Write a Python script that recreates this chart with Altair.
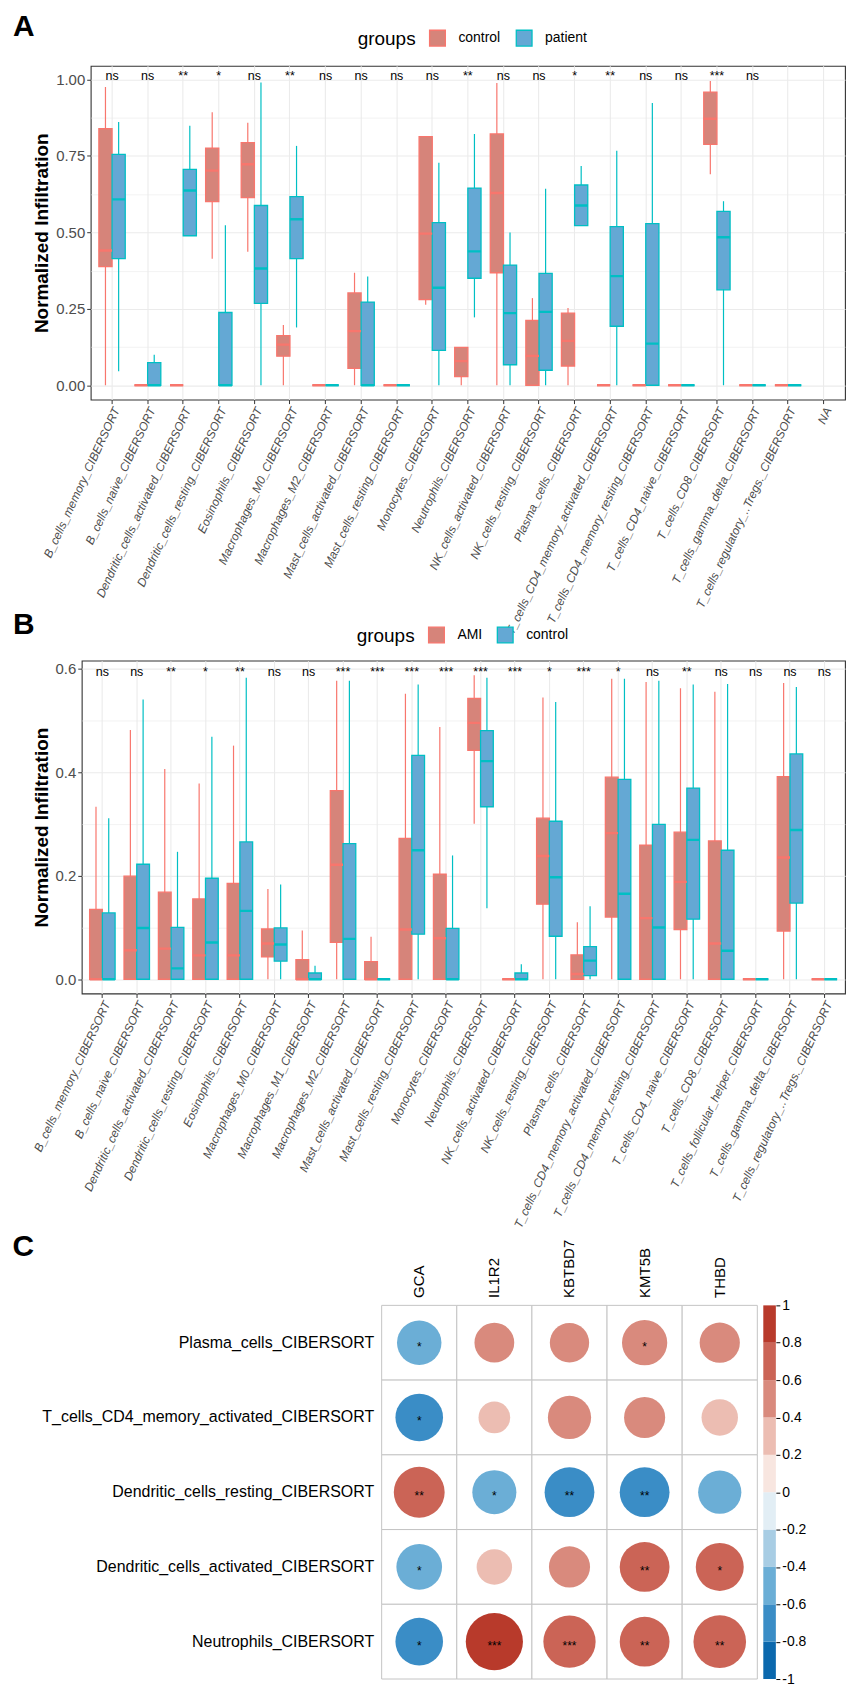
import altair as alt
import pandas as pd

FONT = "Liberation Sans"
RED_FILL, BLUE_FILL = "#D6847A", "#64A8D4"
RED_LINE, BLUE_LINE = "#F8766D", "#00BFC4"

# ---------------- Panel A ----------------
cats_a = ["B_cells_memory_CIBERSORT", "B_cells_naive_CIBERSORT", "Dendritic_cells_activated_CIBERSORT",
          "Dendritic_cells_resting_CIBERSORT", "Eosinophils_CIBERSORT", "Macrophages_M0_CIBERSORT",
          "Macrophages_M2_CIBERSORT", "Mast_cells_activated_CIBERSORT", "Mast_cells_resting_CIBERSORT",
          "Monocytes_CIBERSORT", "Neutrophils_CIBERSORT", "NK_cells_activated_CIBERSORT",
          "NK_cells_resting_CIBERSORT", "Plasma_cells_CIBERSORT", "T_cells_CD4_memory_activated_CIBERSORT",
          "T_cells_CD4_memory_resting_CIBERSORT", "T_cells_CD4_naive_CIBERSORT", "T_cells_CD8_CIBERSORT",
          "T_cells_gamma_delta_CIBERSORT", "T_cells_regulatory_..Tregs._CIBERSORT", "NA"]
groups_a = ["control", "patient"]
a_ctrl_lo  = [0, 0, 0, 0.414, 0.437, 0, 0, 0, 0, 0.263, 0, 0, 0, 0, 0, 0, 0, 0.690, 0, 0]
a_ctrl_q1  = [0.388, 0, 0, 0.601, 0.614, 0.095, 0, 0.055, 0, 0.280, 0.028, 0.368, 0, 0.063, 0, 0, 0, 0.788, 0, 0]
a_ctrl_med = [0.441, 0, 0, 0.702, 0.723, 0.133, 0, 0.177, 0, 0.496, 0.079, 0.629, 0.096, 0.145, 0, 0, 0, 0.872, 0, 0]
a_ctrl_q3  = [0.839, 0, 0, 0.776, 0.794, 0.162, 0, 0.302, 0, 0.813, 0.124, 0.822, 0.212, 0.236, 0, 0, 0, 0.959, 0, 0]
a_ctrl_hi  = [0.976, 0, 0, 0.893, 0.859, 0.197, 0, 0.368, 0, 0.813, 0.124, 0.989, 0.285, 0.253, 0, 0, 0, 0.995, 0, 0]
a_pat_lo   = [0.046, 0, 0.489, 0, 0, 0.189, 0, 0, 0, 0, 0.222, 0, 0, 0.522, 0, 0, 0, 0, 0, 0]
a_pat_q1   = [0.414, 0, 0.489, 0, 0.268, 0.414, 0, 0, 0, 0.114, 0.350, 0.067, 0.049, 0.522, 0.193, 0, 0, 0.312, 0, 0]
a_pat_med  = [0.608, 0, 0.637, 0, 0.382, 0.543, 0, 0, 0, 0.319, 0.438, 0.236, 0.240, 0.588, 0.357, 0.136, 0, 0.484, 0, 0]
a_pat_q3   = [0.755, 0.074, 0.706, 0.238, 0.588, 0.617, 0, 0.272, 0, 0.532, 0.645, 0.393, 0.366, 0.655, 0.519, 0.529, 0, 0.569, 0, 0]
a_pat_hi   = [0.861, 0.100, 0.849, 0.523, 0.990, 0.783, 0, 0.356, 0, 0.728, 0.822, 0.500, 0.643, 0.717, 0.767, 0.923, 0, 0.602, 0, 0]
sig_a = ["ns", "ns", "**", "*", "ns", "**", "ns", "ns", "ns", "ns", "**", "ns", "ns", "*", "**", "ns", "ns", "***", "ns"]
y_major_a = [0, 0.25, 0.5, 0.75, 1.0]
y_minor_a = [0.125, 0.375, 0.625, 0.875]

# ---------------- Panel B ----------------
cats_b = ["B_cells_memory_CIBERSORT", "B_cells_naive_CIBERSORT", "Dendritic_cells_activated_CIBERSORT",
          "Dendritic_cells_resting_CIBERSORT", "Eosinophils_CIBERSORT", "Macrophages_M0_CIBERSORT",
          "Macrophages_M1_CIBERSORT", "Macrophages_M2_CIBERSORT", "Mast_cells_activated_CIBERSORT",
          "Mast_cells_resting_CIBERSORT", "Monocytes_CIBERSORT", "Neutrophils_CIBERSORT",
          "NK_cells_activated_CIBERSORT", "NK_cells_resting_CIBERSORT", "Plasma_cells_CIBERSORT",
          "T_cells_CD4_memory_activated_CIBERSORT", "T_cells_CD4_memory_resting_CIBERSORT",
          "T_cells_CD4_naive_CIBERSORT", "T_cells_CD8_CIBERSORT", "T_cells_follicular_helper_CIBERSORT",
          "T_cells_gamma_delta_CIBERSORT", "T_cells_regulatory_..Tregs._CIBERSORT"]
groups_b = ["AMI", "control"]
b_ami_lo  = [0, 0, 0, 0, 0, 0, 0, 0, 0, 0, 0, 0.300, 0, 0, 0, 0, 0, 0, 0, 0, 0, 0]
b_ami_q1  = [0, 0, 0, 0, 0, 0.043, 0, 0.071, 0, 0, 0, 0.442, 0, 0.145, 0, 0.120, 0, 0.096, 0, 0, 0.093, 0]
b_ami_med = [0, 0.056, 0.059, 0.046, 0.046, 0.069, 0, 0.221, 0, 0.096, 0.079, 0.495, 0, 0.238, 0.010, 0.282, 0.118, 0.188, 0.069, 0, 0.235, 0]
b_ami_q3  = [0.135, 0.199, 0.168, 0.155, 0.185, 0.097, 0.038, 0.364, 0.034, 0.272, 0.203, 0.542, 0, 0.311, 0.047, 0.390, 0.259, 0.284, 0.267, 0, 0.391, 0]
b_ami_hi  = [0.333, 0.481, 0.406, 0.378, 0.451, 0.174, 0.094, 0.576, 0.082, 0.551, 0.487, 0.587, 0, 0.544, 0.110, 0.580, 0.574, 0.562, 0.555, 0, 0.572, 0]
b_ctl_lo  = [0, 0, 0, 0, 0, 0, 0, 0, 0, 0, 0, 0.137, 0, 0, 0, 0, 0, 0, 0, 0, 0, 0]
b_ctl_q1  = [0, 0, 0, 0, 0, 0.035, 0, 0, 0, 0.087, 0, 0.333, 0, 0.083, 0.007, 0, 0, 0.116, 0, 0, 0.147, 0]
b_ctl_med = [0, 0.099, 0.021, 0.071, 0.132, 0.067, 0, 0.078, 0, 0.249, 0, 0.421, 0, 0.197, 0.036, 0.165, 0.100, 0.269, 0.055, 0, 0.288, 0]
b_ctl_q3  = [0.128, 0.222, 0.100, 0.195, 0.265, 0.099, 0.012, 0.262, 0, 0.432, 0.098, 0.480, 0.012, 0.305, 0.063, 0.386, 0.299, 0.369, 0.249, 0, 0.435, 0]
b_ctl_hi  = [0.311, 0.540, 0.246, 0.468, 0.582, 0.183, 0.026, 0.576, 0, 0.569, 0.239, 0.582, 0.029, 0.535, 0.141, 0.580, 0.576, 0.569, 0.570, 0, 0.564, 0]
sig_b = ["ns", "ns", "**", "*", "**", "ns", "ns", "***", "***", "***", "***", "***", "***", "*", "***", "*",
         "ns", "**", "ns", "ns", "ns", "ns"]
y_major_b = [0, 0.2, 0.4, 0.6]
y_minor_b = [0.1, 0.3, 0.5]

# ---------------- Panel C ----------------
rows_c = ["Plasma_cells_CIBERSORT", "T_cells_CD4_memory_activated_CIBERSORT", "Dendritic_cells_resting_CIBERSORT",
          "Dendritic_cells_activated_CIBERSORT", "Neutrophils_CIBERSORT"]
cols_c = ["GCA", "IL1R2", "KBTBD7", "KMT5B", "THBD"]
r_plasma = [-0.55, 0.44, 0.43, 0.57, 0.45]
r_cd4mem = [-0.63, 0.28, 0.52, 0.47, 0.37]
r_dcrest = [0.72, -0.54, -0.69, -0.69, -0.52]
r_dcact  = [-0.58, 0.35, 0.47, 0.69, 0.64]
r_neut   = [-0.63, 0.91, 0.76, 0.69, 0.77]
s_plasma = ["*", "", "", "*", ""]
s_cd4mem = ["*", "", "", "", ""]
s_dcrest = ["**", "*", "**", "**", ""]
s_dcact  = ["*", "", "", "**", "*"]
s_neut   = ["*", "***", "***", "**", "**"]
cb_breaks = [-1, -0.8, -0.6, -0.4, -0.2, 0, 0.2, 0.4, 0.6, 0.8, 1]
cb_colors = ["#0B68AD", "#3A8DC6", "#6BAED6", "#A8CDE4", "#E2EEF5",
             "#F8E6E0", "#ECBDB2", "#D98A7D", "#CB6456", "#B83A2B"]


def long_df(cats, groups, stats):
    recs = []
    for g, (lo, q1, md, q3, hi) in zip(groups, stats):
        for i in range(len(lo)):
            recs.append(dict(cat=cats[i], group=g, lo=lo[i], q1=q1[i], med=md[i], q3=q3[i], hi=hi[i]))
    return pd.DataFrame(recs)


def box_panel(cats, groups, df, sig, sig_y, ydom, major, minor, fmt, width, height,
              letter, letter_dx, letter_dy, ytitle_x, leg_x, leg_y):
    minor_test = f"indexof({minor}, datum.value) >= 0"
    vals = sorted(major + minor)
    x_axis = alt.Axis(title=None, labelAngle=-65, labelAlign="right", labelBaseline="top",
                      labelFontStyle="italic", labelFontSize=12, labelColor="#4D4D4D", labelFont=FONT,
                      labelLimit=1000, labelOverlap=False, labelPadding=2, tickSize=4, tickColor="#333333",
                      bandPosition=0.5, grid=True, gridColor="#EBEBEB", gridWidth=1.1, domain=False)
    y_axis = alt.Axis(title="Normalized Infiltration", titleFontSize=19, titleFontWeight="bold",
                      titleColor="black", titleFont=FONT, titleX=ytitle_x, titleBaseline="alphabetic",
                      values=vals,
                      labelExpr=f"indexof({major}, datum.value) >= 0 ? format(datum.value, '{fmt}') : ''",
                      labelFontSize=15, labelColor="#4D4D4D", labelFont=FONT, labelPadding=2,
                      tickSize=4, tickColor="#333333",
                      tickOpacity={"condition": {"test": minor_test, "value": 0}, "value": 1},
                      grid=True, gridColor="#EBEBEB",
                      gridWidth={"condition": {"test": minor_test, "value": 0.6}, "value": 1.1},
                      domain=False)
    legend = alt.Legend(title="groups", orient="none", legendX=leg_x, legendY=leg_y, direction="horizontal",
                        titleOrient="left", titleFontSize=19, titleFontWeight="normal", titleColor="black",
                        titleFont=FONT, labelFontSize=14, labelFont=FONT, labelColor="black",
                        symbolType="square", symbolSize=250, symbolStrokeWidth=1.3, labelOffset=12,
                        columnPadding=12, titlePadding=12)
    x = alt.X("cat:N", scale=alt.Scale(domain=cats, paddingInner=0, paddingOuter=0.1), axis=x_axis)
    xo = alt.XOffset("group:N", scale=alt.Scale(domain=groups, paddingInner=0, paddingOuter=0.35))
    fill = alt.Fill("group:N", scale=alt.Scale(domain=groups, range=[RED_FILL, BLUE_FILL]), legend=legend)
    stroke = alt.Stroke("group:N", scale=alt.Scale(domain=groups, range=[RED_LINE, BLUE_LINE]), legend=legend)
    base = alt.Chart(df).encode(x=x, xOffset=xo)
    whisk = base.mark_rule(strokeWidth=1.2).encode(
        y=alt.Y("lo:Q", scale=alt.Scale(domain=ydom, nice=False, zero=False), axis=y_axis),
        y2="hi:Q", stroke=stroke)
    box = base.mark_bar(strokeWidth=1.3).encode(y="q1:Q", y2="q3:Q", fill=fill, stroke=stroke)
    med = base.mark_bar(strokeWidth=2.4, fillOpacity=0).encode(y="med:Q", y2="med:Q", stroke=stroke)
    sig_df = pd.DataFrame({"cat": cats[:len(sig)], "label": sig})
    stars = alt.Chart(sig_df).mark_text(fontSize=12.5, font=FONT, baseline="middle", color="black").encode(
        x=alt.X("cat:N"), y=alt.datum(sig_y), text="label:N")
    return alt.layer(whisk, box, med, stars).properties(
        width=width, height=height,
        title=alt.TitleParams(letter, anchor="start", frame="group", dx=letter_dx, dy=letter_dy,
                              fontSize=30, fontWeight="bold", font=FONT, color="black"),
        view=alt.ViewBackground(stroke="#333333", strokeWidth=1.1))


def spacer():
    return alt.Chart(pd.DataFrame({"v": []})).mark_point().encode(
        x=alt.X("v:Q", axis=None), y=alt.Y("v:Q", axis=None)).properties(
        width=1, height=1, view=alt.ViewBackground(stroke=None))


df_a = long_df(cats_a, groups_a, [(a_ctrl_lo, a_ctrl_q1, a_ctrl_med, a_ctrl_q3, a_ctrl_hi),
                                  (a_pat_lo, a_pat_q1, a_pat_med, a_pat_q3, a_pat_hi)])
df_b = long_df(cats_b, groups_b, [(b_ami_lo, b_ami_q1, b_ami_med, b_ami_q3, b_ami_hi),
                                  (b_ctl_lo, b_ctl_q1, b_ctl_med, b_ctl_q3, b_ctl_hi)])

panel_a = box_panel(cats_a, groups_a, df_a, sig_a, 1.01, [-0.047, 1.045], y_major_a, y_minor_a, ".2f",
                    757, 335, "A", -78, -20, -43.5, 348, -37)
panel_b = box_panel(cats_b, groups_b, df_b, sig_b, 0.594, [-0.0275, 0.615], y_major_b, y_minor_b, ".1f",
                    766, 334, "B", -69, -17, -34.5, 347, -35)

# ---------------- Panel C chart ----------------
recs = []
for rname, rv, sv in zip(rows_c, [r_plasma, r_cd4mem, r_dcrest, r_dcact, r_neut],
                         [s_plasma, s_cd4mem, s_dcrest, s_dcact, s_neut]):
    for cname, r, s in zip(cols_c, rv, sv):
        recs.append(dict(row=rname, col=cname, r=r, star=s))
df_c = pd.DataFrame(recs)
thr = alt.Scale(type="threshold", domain=cb_breaks[1:-1], range=cb_colors)

cbase = alt.Chart(df_c).encode(
    x=alt.X("col:N", scale=alt.Scale(domain=cols_c, paddingInner=0, paddingOuter=0),
            axis=alt.Axis(orient="top", title=None, labelAngle=-90, labelAlign="left", labelBaseline="middle",
                          ticks=False, domain=False, labelFontSize=15, labelFont=FONT, labelColor="black",
                          labelPadding=8, grid=False)),
    y=alt.Y("row:N", scale=alt.Scale(domain=rows_c, paddingInner=0, paddingOuter=0),
            axis=alt.Axis(title=None, ticks=False, domain=False, labelFontSize=16, labelFont=FONT,
                          labelColor="black", labelPadding=8, labelLimit=1000, grid=False)))
cells = cbase.mark_rect(fill="white", stroke="#C4C4C4", strokeWidth=1)
circles = cbase.transform_calculate(absr="abs(datum.r)").mark_circle(opacity=1).encode(
    size=alt.Size("absr:Q", scale=alt.Scale(domain=[0, 1], range=[0, 3621]), legend=None),
    color=alt.Color("r:Q", scale=thr, legend=None))
cstars = cbase.mark_text(fontSize=12, font=FONT, color="black", baseline="middle", dy=4).encode(text="star:N")
grid_c = alt.layer(cells, circles, cstars).properties(
    width=377, height=375,
    title=alt.TitleParams("C", anchor="start", frame="group", dx=-370.5, dy=27,
                          fontSize=30, fontWeight="bold", font=FONT, color="black"),
    view=alt.ViewBackground(stroke=None))

cb_df = pd.DataFrame({"lo": cb_breaks[:-1], "hi": cb_breaks[1:], "col": cb_colors})
colorbar = alt.Chart(cb_df).mark_rect().encode(
    y=alt.Y("lo:Q", scale=alt.Scale(domain=[-1, 1], nice=False, zero=False),
            axis=alt.Axis(orient="right", title=None, values=cb_breaks,
                          labelExpr="toString(round(datum.value*10)/10)", labelFontSize=14, labelFont=FONT,
                          labelColor="black", tickColor="black", tickSize=4, domain=False, labelPadding=2,
                          grid=False)),
    y2="hi:Q", color=alt.Color("col:N", scale=None)).properties(
    width=12.6, height=375, view=alt.ViewBackground(stroke=None))

lower = alt.vconcat(
    alt.hconcat(spacer(), panel_b, spacing=0),
    alt.hconcat(spacer(), alt.hconcat(grid_c, colorbar, spacing=5), spacing=0),
    spacing=1,
).resolve_scale(fill="independent", stroke="independent", color="independent")

chart = alt.vconcat(
    alt.hconcat(spacer(), panel_a, spacing=0),
    lower,
    spacing=-28,
).resolve_scale(fill="independent", stroke="independent", color="independent",
                x="independent", y="independent", xOffset="independent").properties(
    padding={"left": 3, "top": 0, "right": 0, "bottom": 0}
).configure(font=FONT).configure_view(stroke=None)

chart.save("out.html", embed_options={"renderer": "svg", "actions": False})
